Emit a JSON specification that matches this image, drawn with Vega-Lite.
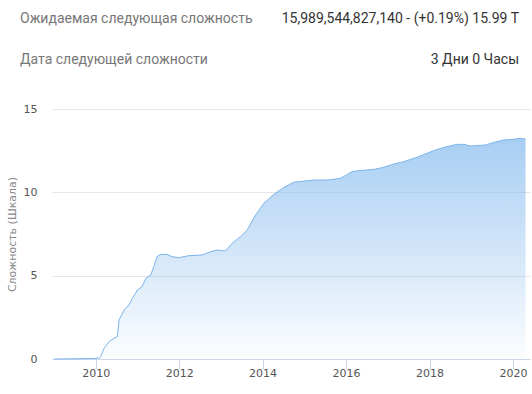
{
  "$schema": "https://vega.github.io/schema/vega-lite/v6.json",
  "padding": {"left": 6, "top": 0, "right": 1, "bottom": 5},
  "background": "white",
  "spacing": 30,
  "bounds": "flush",
  "config": {"view": {"stroke": null}, "font": "DejaVu Sans"},
  "datasets": {
    "header": [
      {"row": "1", "col": "label", "txt": "Ожидаемая следующая сложность"},
      {"row": "1", "col": "value", "txt": "15,989,544,827,140 - (+0.19%) 15.99 T"},
      {"row": "2", "col": "label", "txt": "Дата следующей сложности"},
      {"row": "2", "col": "value", "txt": "3 Дни 0 Часы"}
    ],
    "difficulty": [
      {"year": 2009.01, "scale": 0},
      {"year": 2010.0, "scale": 0.03},
      {"year": 2010.1, "scale": 0.08},
      {"year": 2010.12, "scale": 0.14},
      {"year": 2010.2, "scale": 0.64},
      {"year": 2010.32, "scale": 1.04},
      {"year": 2010.44, "scale": 1.24},
      {"year": 2010.52, "scale": 1.34},
      {"year": 2010.56, "scale": 2.34},
      {"year": 2010.68, "scale": 2.94},
      {"year": 2010.8, "scale": 3.24},
      {"year": 2010.88, "scale": 3.64},
      {"year": 2011.0, "scale": 4.14},
      {"year": 2011.11, "scale": 4.34},
      {"year": 2011.2, "scale": 4.84},
      {"year": 2011.32, "scale": 5.04},
      {"year": 2011.39, "scale": 5.54},
      {"year": 2011.47, "scale": 6.14},
      {"year": 2011.56, "scale": 6.28},
      {"year": 2011.71, "scale": 6.28},
      {"year": 2011.83, "scale": 6.14},
      {"year": 2011.99, "scale": 6.08},
      {"year": 2012.23, "scale": 6.2},
      {"year": 2012.55, "scale": 6.24},
      {"year": 2012.75, "scale": 6.44},
      {"year": 2012.91, "scale": 6.54},
      {"year": 2013.11, "scale": 6.48},
      {"year": 2013.27, "scale": 6.94},
      {"year": 2013.47, "scale": 7.34},
      {"year": 2013.63, "scale": 7.74},
      {"year": 2013.83, "scale": 8.64},
      {"year": 2014.03, "scale": 9.34},
      {"year": 2014.27, "scale": 9.88},
      {"year": 2014.5, "scale": 10.28},
      {"year": 2014.74, "scale": 10.6},
      {"year": 2015.02, "scale": 10.68},
      {"year": 2015.26, "scale": 10.74},
      {"year": 2015.58, "scale": 10.74},
      {"year": 2015.86, "scale": 10.84},
      {"year": 2015.98, "scale": 11.0},
      {"year": 2016.14, "scale": 11.24},
      {"year": 2016.3, "scale": 11.3},
      {"year": 2016.67, "scale": 11.38},
      {"year": 2016.9, "scale": 11.5},
      {"year": 2017.14, "scale": 11.7},
      {"year": 2017.38, "scale": 11.84},
      {"year": 2017.7, "scale": 12.1},
      {"year": 2017.94, "scale": 12.34},
      {"year": 2018.14, "scale": 12.54},
      {"year": 2018.42, "scale": 12.74},
      {"year": 2018.66, "scale": 12.88},
      {"year": 2018.82, "scale": 12.88},
      {"year": 2018.98, "scale": 12.78},
      {"year": 2019.34, "scale": 12.84},
      {"year": 2019.54, "scale": 13.0},
      {"year": 2019.78, "scale": 13.14},
      {"year": 2020.01, "scale": 13.18},
      {"year": 2020.17, "scale": 13.24},
      {"year": 2020.3, "scale": 13.2}
    ]
  },
  "vconcat": [
    {
      "width": 478,
      "height": 79,
      "data": {"name": "header"},
      "encoding": {
        "y": {"field": "row", "type": "ordinal", "scale": {"type": "point", "padding": 0.4634}, "axis": null},
        "x": {"field": "col", "type": "nominal", "scale": {"type": "point", "padding": 0, "domain": ["label", "value"]}, "axis": null},
        "text": {"field": "txt"}
      },
      "layer": [
        {
          "transform": [{"filter": "datum.col === 'label'"}],
          "mark": {"type": "text", "align": "left", "baseline": "middle", "dx": -32, "font": "Roboto", "fontSize": 14, "color": "#777777"}
        },
        {
          "transform": [{"filter": "datum.col === 'value'"}],
          "mark": {"type": "text", "align": "right", "baseline": "middle", "dx": -11, "font": "Roboto", "fontSize": 14, "color": "#333333"}
        }
      ]
    },
    {
      "width": 478,
      "height": 250,
      "data": {"name": "difficulty"},
      "mark": {
        "type": "area",
        "interpolate": "linear",
        "color": {
          "gradient": "linear",
          "x1": 0, "y1": 0, "x2": 0, "y2": 1,
          "stops": [
            {"offset": 0, "color": "rgba(124,181,236,0.95)"},
            {"offset": 1, "color": "rgba(124,181,236,0.04)"}
          ]
        },
        "line": {"color": "#7cb5ec", "strokeWidth": 1}
      },
      "encoding": {
        "x": {
          "field": "year",
          "type": "quantitative",
          "scale": {"domain": [2008.953, 2020.407], "nice": false, "zero": false},
          "axis": {
            "values": [2010, 2012, 2014, 2016, 2018, 2020],
            "format": "d",
            "title": null,
            "grid": false,
            "domainColor": "#ccd6eb",
            "tickColor": "#ccd6eb",
            "tickSize": 10,
            "labelPadding": -2,
            "labelFontSize": 11,
            "labelColor": "#555555",
            "labelFlush": false
          }
        },
        "y": {
          "field": "scale",
          "type": "quantitative",
          "scale": {"domain": [0, 15], "nice": false},
          "axis": {
            "title": "Сложность (Шкала)",
            "values": [0, 5, 10, 15],
            "grid": true,
            "gridColor": "#e6e6e6",
            "domain": false,
            "ticks": false,
            "tickSize": 0,
            "labelPadding": 15,
            "labelFontSize": 11,
            "labelColor": "#555555",
            "titlePadding": 6,
            "titleFontSize": 11,
            "titleFontWeight": "normal",
            "titleColor": "#888888"
          }
        }
      }
    }
  ]
}
